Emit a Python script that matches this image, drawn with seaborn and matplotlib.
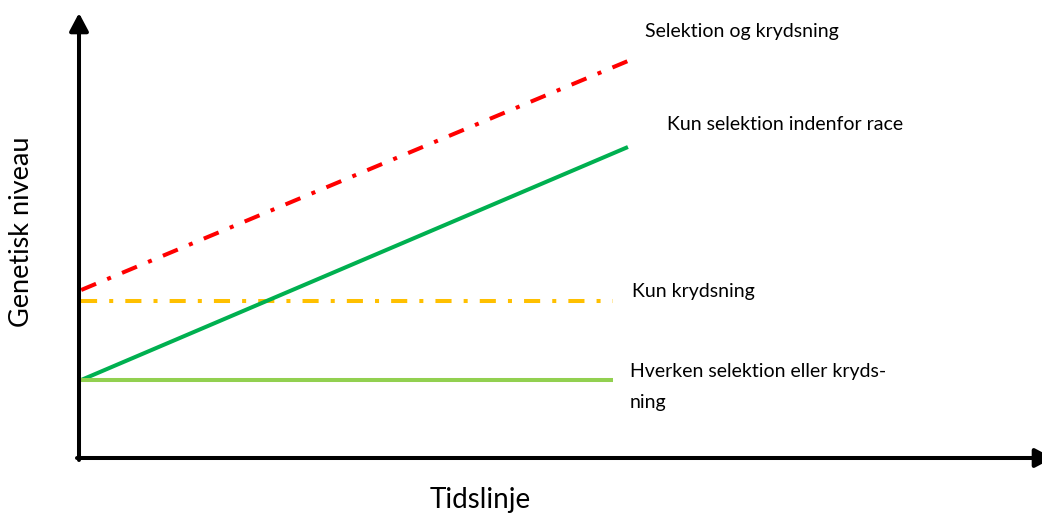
import matplotlib
matplotlib.use("Agg")
import matplotlib.pyplot as plt
import seaborn as sns
import numpy as np

# Data (logical units: time, genetic level)
time_full = [0, 10]
time_flat = [0, 9.72]
selektion_og_krydsning = [16.8, 39.7]
kun_selektion = [7.8, 31.1]
kun_krydsning = [15.7, 15.7]
hverken = [7.8, 7.8]

labels = ["Selektion og krydsning", "Kun selektion indenfor race",
          "Kun krydsning", "Hverken selektion eller kryds-\nning"]
xlabel = "Tidslinje"
ylabel = "Genetisk niveau"

sns.set_theme(style="white")
plt.rcParams['font.family'] = ['Lato', 'DejaVu Sans']

W, H = 1042, 513
fig = plt.figure(figsize=(W / 100, H / 100), dpi=100)
# axes: origin at pixel (79, 458), x to 1040, y to 13
x0, y0, x1, y1 = 79, 458, 1040, 13
ax = fig.add_axes([x0 / W, (H - y0) / H, (x1 - x0) / W, (y0 - y1) / H])
ppx = 54.8  # px per time unit
ax.set_xlim(-0.04, (x1 - x0) / ppx)
ax.set_ylim(0, (y0 - y1) / 10)
for s in ax.spines.values():
    s.set_visible(False)
ax.set_xticks([])
ax.set_yticks([])
ax.patch.set_alpha(0)

lw = 2.9
dashdot = (0, (4.0, 3.0, 1.0, 3.0))
sns.lineplot(x=time_full, y=selektion_og_krydsning, ax=ax, color="#FF0000", lw=lw,
             linestyle=dashdot)
sns.lineplot(x=time_flat, y=kun_krydsning, ax=ax, color="#FFC000", lw=lw,
             linestyle=dashdot)
sns.lineplot(x=time_full, y=kun_selektion, ax=ax, color="#00B050", lw=lw)
sns.lineplot(x=time_flat, y=hverken, ax=ax, color="#92D050", lw=lw)
for ln in ax.get_lines():
    ln.set_dash_capstyle("butt")
    ln.set_solid_capstyle("butt")

# Axes with arrows (figure pixel coordinates)
def px(x, y):
    return (x / W, 1 - y / H)

style = "-|>,head_length=1.0,head_width=0.53"
fig.add_artist(matplotlib.patches.FancyArrowPatch(px(79, 460), px(79, 13),
               transform=fig.transFigure, arrowstyle=style,
               mutation_scale=10.8, lw=2.9, color="black", shrinkA=0, shrinkB=0))
fig.add_artist(matplotlib.patches.FancyArrowPatch(px(77, 458), px(1053, 458),
               transform=fig.transFigure, arrowstyle=style,
               mutation_scale=10.8, lw=2.9, color="black", shrinkA=0, shrinkB=0))

fs = 14
tc = "black"
fig.text(*px(645, 32), labels[0], fontsize=fs, va="center", ha="left", color=tc)
fig.text(*px(667, 125), labels[1], fontsize=fs, va="center", ha="left", color=tc)
fig.text(*px(632, 292), labels[2], fontsize=fs, va="center", ha="left", color=tc)
fig.text(*px(630, 387), labels[3], fontsize=fs, va="center", ha="left", color=tc,
         linespacing=1.95)

fig.text(*px(480, 500), xlabel, fontsize=20, va="center", ha="center", color=tc)
fig.text(*px(22, 232), ylabel, fontsize=19.5, va="center", ha="center", rotation=90, color=tc)

fig.savefig("out.png", dpi=100)
